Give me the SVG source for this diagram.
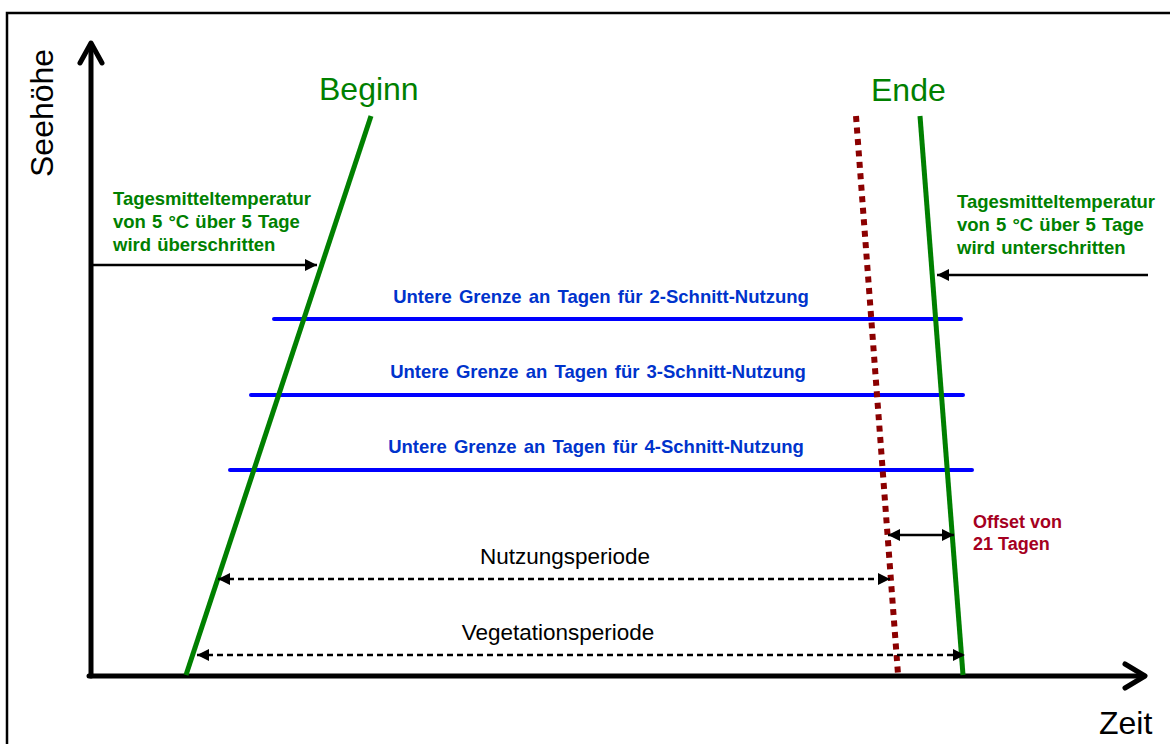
<svg xmlns="http://www.w3.org/2000/svg" width="1170" height="744" viewBox="0 0 1170 744">
<style>
text{font-family:"Liberation Sans",Arial,sans-serif}
.g{fill:#008000;font-weight:bold;font-size:18.5px;word-spacing:1px}
.b{fill:#0033CC;font-weight:bold;font-size:18.5px;word-spacing:2px;text-anchor:middle}
.big{fill:#008000;font-size:32px}
.ax{fill:#000;font-size:32px}
.per{fill:#000;font-size:22.5px;text-anchor:middle}
.off{fill:#A50021;font-weight:bold;font-size:18px}
.arr{stroke:#000;stroke-width:2.5;fill:none}
.dash{stroke:#000;stroke-width:2.5;fill:none;stroke-dasharray:6 4}
.blue{stroke:#0000FF;stroke-width:4;stroke-linecap:round}
.green{stroke:#008000;stroke-width:5}
</style>
<defs>
<marker id="ah" viewBox="0 0 12 12" refX="12" refY="6" markerWidth="13" markerHeight="12" markerUnits="userSpaceOnUse" orient="auto-start-reverse">
<path d="M0,0 L12,6 L0,12 z" fill="#000"/>
</marker>
</defs>
<rect x="7" y="13" width="1170" height="740" fill="#fff" stroke="#000" stroke-width="2.5"/>
<g id="axes" stroke="#000" stroke-width="5" fill="none" stroke-linecap="round" stroke-linejoin="round">
<path d="M91,676 V45"/>
<path d="M80,63 L91,43 L102,63"/>
<path d="M89,676 H1144"/>
<path d="M1125,664 L1145,676 L1125,688"/>
</g>
<g id="y-label"><text class="ax" transform="translate(53,177) rotate(-90)">Seehöhe</text></g>
<g id="x-label"><text class="ax" x="1099" y="734" font-size="31">Zeit</text></g>
<g id="blue-lines">
<line class="blue" x1="274" y1="319" x2="961" y2="319"/>
<line class="blue" x1="251" y1="395" x2="963" y2="395"/>
<line class="blue" x1="230" y1="470" x2="972" y2="470"/>
</g>
<g id="limit-labels">
<text class="b" x="601" y="303">Untere Grenze an Tagen für 2-Schnitt-Nutzung</text>
<text class="b" x="598" y="378">Untere Grenze an Tagen für 3-Schnitt-Nutzung</text>
<text class="b" x="596" y="453">Untere Grenze an Tagen für 4-Schnitt-Nutzung</text>
</g>
<g id="beginn">
<line class="green" x1="371" y1="116" x2="186" y2="675"/>
<text class="big" x="319" y="100">Beginn</text>
</g>
<g id="ende">
<line class="green" x1="920" y1="116" x2="963" y2="675"/>
<text class="big" x="871" y="101">Ende</text>
</g>
<g id="nutzungsende">
<line x1="856" y1="116" x2="898" y2="674" stroke="#8B0000" stroke-width="6" stroke-dasharray="6 5.5"/>
</g>
<g id="beginn-note">
<text class="g" x="113" y="205">Tagesmitteltemperatur</text>
<text class="g" x="113" y="228">von 5 °C über 5 Tage</text>
<text class="g" x="113" y="251">wird überschritten</text>
</g>
<g id="ende-note">
<text class="g" x="957" y="208">Tagesmitteltemperatur</text>
<text class="g" x="957" y="231">von 5 °C über 5 Tage</text>
<text class="g" x="957" y="254">wird unterschritten</text>
</g>
<g id="offset-note">
<text class="off" x="973" y="528">Offset von</text>
<text class="off" x="973" y="550">21 Tagen</text>
</g>
<g id="period-labels">
<text class="per" x="565" y="564">Nutzungsperiode</text>
<text class="per" x="558" y="640">Vegetationsperiode</text>
</g>
<g id="connectors">
<line class="arr" x1="92" y1="265" x2="317" y2="265" marker-end="url(#ah)"/>
<line class="arr" x1="1148" y1="275" x2="937" y2="275" marker-end="url(#ah)"/>
<line class="arr" x1="888" y1="535" x2="954" y2="535" marker-start="url(#ah)" marker-end="url(#ah)"/>
<line class="dash" x1="218" y1="579" x2="890" y2="579" marker-start="url(#ah)" marker-end="url(#ah)"/>
<line class="dash" x1="197" y1="655" x2="965" y2="655" marker-start="url(#ah)" marker-end="url(#ah)"/>
</g>
</svg>
